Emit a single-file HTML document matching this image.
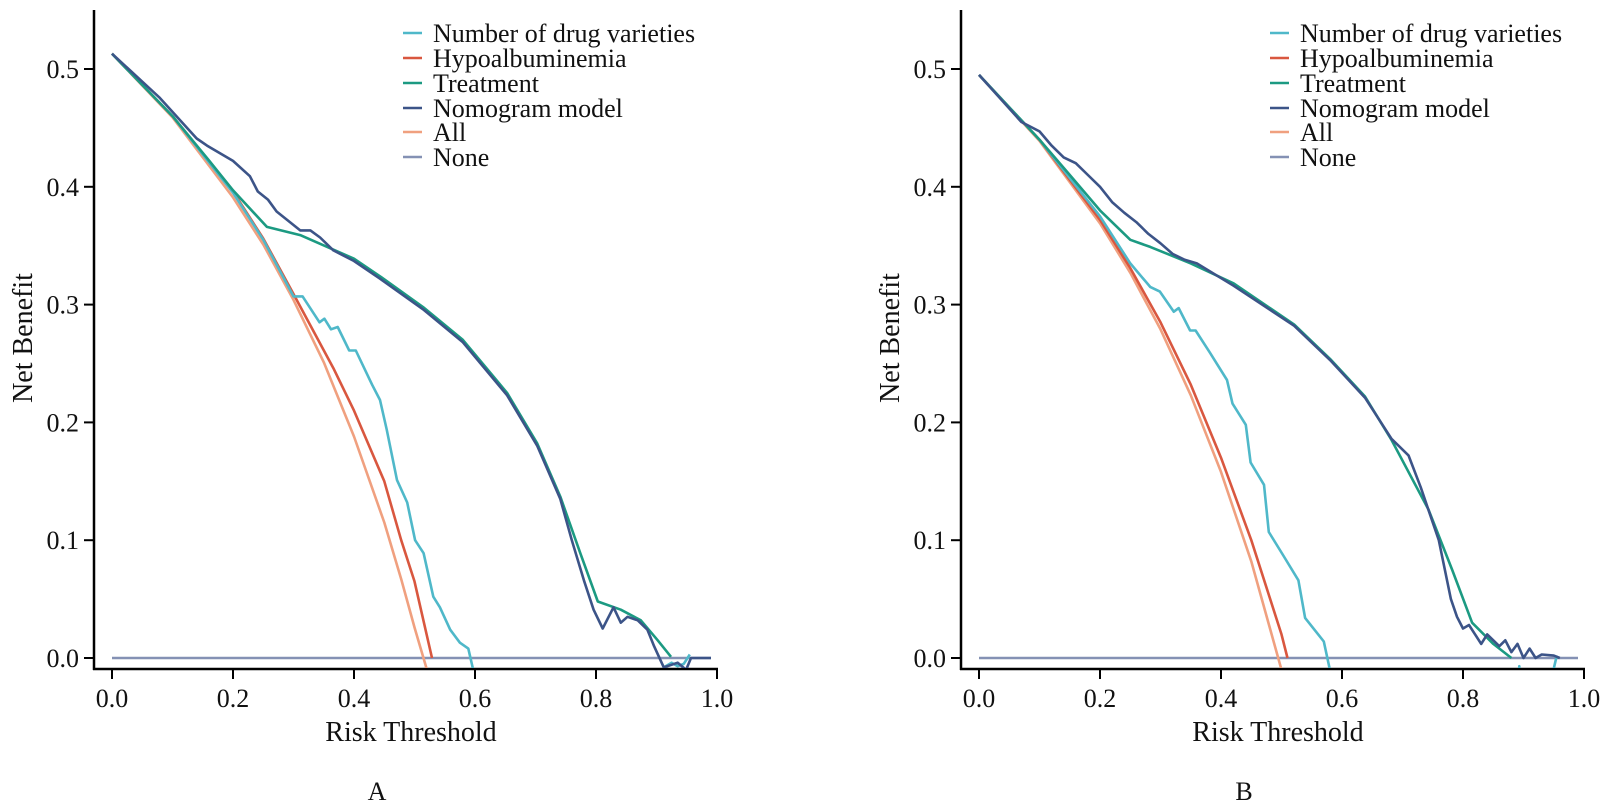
<!DOCTYPE html>
<html><head><meta charset="utf-8"><style>
html,body{margin:0;padding:0;background:#fff;}
svg{display:block;font-family:"Liberation Serif",serif;}
</style></head><body>
<svg id="chart" width="1604" height="803" viewBox="0 0 1604 803" xmlns="http://www.w3.org/2000/svg"></svg>
<script>
// ---- Shared axis data ----
const tickX = [0, 0.2, 0.4, 0.6, 0.8, 1.0];
const tickXLabels = ["0.0","0.2","0.4","0.6","0.8","1.0"];
const tickY = [0, 0.1, 0.2, 0.3, 0.4, 0.5];
const tickYLabels = ["0.0","0.1","0.2","0.3","0.4","0.5"];
const seriesNames = ["Number of drug varieties","Hypoalbuminemia","Treatment","Nomogram model","All","None"];

// ---- Panel A data ----
const aAllT = [0,0.1,0.2,0.25,0.3,0.35,0.4,0.45,0.478,0.5,0.52];
const aAllV = [0.513,0.459,0.391,0.351,0.304,0.251,0.188,0.115,0.067,0.026,-0.009];
const aHypoT = [0,0.1,0.2,0.25,0.3,0.366,0.4,0.45,0.478,0.5,0.529];
const aHypoV = [0.513,0.46,0.396,0.356,0.309,0.246,0.21,0.15,0.1,0.065,0];
const aDrugT = [0,0.1,0.2,0.25,0.3,0.315,0.329,0.343,0.351,0.362,0.373,0.392,0.403,0.43,0.443,0.454,0.471,0.488,0.501,0.515,0.531,0.542,0.559,0.575,0.589,0.597,0.62,0.9,0.912,0.925,0.935,0.945,0.955];
const aDrugV = [0.513,0.46,0.395,0.355,0.307,0.307,0.296,0.285,0.288,0.279,0.281,0.261,0.261,0.232,0.219,0.194,0.151,0.132,0.1,0.089,0.052,0.043,0.024,0.013,0.008,-0.01,-0.1,-0.1,-0.008,-0.004,-0.007,-0.005,0.003];
const aTreatT = [0,0.1,0.161,0.2,0.256,0.311,0.4,0.443,0.514,0.58,0.653,0.703,0.741,0.774,0.803,0.841,0.874,0.902,0.924];
const aTreatV = [0.513,0.46,0.422,0.397,0.366,0.359,0.339,0.324,0.298,0.27,0.225,0.182,0.137,0.089,0.048,0.041,0.032,0.015,0.001];
const aNomoT = [0,0.078,0.14,0.157,0.2,0.228,0.241,0.258,0.272,0.294,0.311,0.328,0.344,0.366,0.4,0.443,0.514,0.58,0.653,0.703,0.741,0.76,0.78,0.796,0.811,0.829,0.841,0.852,0.869,0.885,0.896,0.912,0.935,0.949,0.957,0.99];
const aNomoV = [0.513,0.476,0.441,0.435,0.422,0.409,0.396,0.389,0.379,0.37,0.363,0.363,0.357,0.346,0.337,0.322,0.296,0.268,0.223,0.18,0.135,0.1,0.066,0.041,0.025,0.043,0.03,0.035,0.032,0.024,0.01,-0.008,-0.004,-0.01,0,0];
const aNoneT = [0,0.99];
const aNoneV = [0,0];

// ---- Panel B data ----
const bAllT = [0,0.1,0.2,0.25,0.3,0.35,0.4,0.45,0.5];
const bAllV = [0.495,0.439,0.369,0.327,0.279,0.223,0.158,0.082,-0.01];
const bHypoT = [0,0.1,0.2,0.25,0.3,0.35,0.4,0.45,0.5,0.51];
const bHypoV = [0.495,0.44,0.372,0.331,0.285,0.232,0.17,0.1,0.02,0];
const bDrugT = [0,0.1,0.2,0.25,0.283,0.299,0.322,0.33,0.349,0.358,0.382,0.41,0.419,0.441,0.449,0.471,0.479,0.503,0.528,0.539,0.57,0.58,0.62,0.88,0.893,0.9,0.93,0.945,0.955];
const bDrugV = [0.495,0.44,0.375,0.335,0.315,0.311,0.294,0.297,0.278,0.278,0.259,0.236,0.216,0.198,0.166,0.147,0.107,0.087,0.066,0.034,0.014,-0.01,-0.1,-0.1,-0.007,-0.1,-0.1,-0.02,0.002];
const bTreatT = [0,0.1,0.15,0.2,0.25,0.283,0.35,0.421,0.521,0.582,0.638,0.682,0.743,0.782,0.815,0.85,0.88];
const bTreatV = [0.495,0.44,0.41,0.38,0.355,0.349,0.335,0.318,0.283,0.253,0.222,0.185,0.126,0.075,0.03,0.012,0];
const bNomoT = [0,0.07,0.1,0.12,0.14,0.16,0.18,0.2,0.22,0.24,0.26,0.28,0.3,0.32,0.34,0.36,0.421,0.521,0.582,0.638,0.682,0.71,0.73,0.76,0.78,0.79,0.8,0.81,0.82,0.83,0.84,0.85,0.86,0.87,0.88,0.89,0.9,0.91,0.92,0.93,0.95,0.96];
const bNomoV = [0.495,0.455,0.447,0.435,0.425,0.42,0.41,0.4,0.387,0.378,0.37,0.36,0.352,0.343,0.338,0.335,0.316,0.282,0.252,0.221,0.186,0.172,0.145,0.1,0.05,0.035,0.025,0.028,0.02,0.012,0.02,0.015,0.01,0.015,0.005,0.012,0,0.008,0,0.003,0.002,0];
const bNoneT = [0,0.99];
const bNoneV = [0,0];

const colors = ["#4fb8c9","#d9573f","#1c9a82","#3c5488","#f0a07f","#8491b4"];
const NS = "http://www.w3.org/2000/svg";
const svg = document.getElementById('chart');

function mk(tag, attrs, parent){
  const e = document.createElementNS(NS, tag);
  for (const k in attrs) e.setAttribute(k, attrs[k]);
  (parent||svg).appendChild(e);
  return e;
}

function panel(id, off, series, letter){
  const x0 = 112 + off, xs = 605, y0 = 658, ys = 1178;
  const X = t => x0 + t*xs;
  const Y = v => y0 - v*ys;
  const g = mk('g', {});
  
  
  const clip = mk('clipPath', {id:'clip'+id}, g);
  mk('rect', {x:95+off, y:5, width:640, height:663}, clip);
  const yAxis = mk('line', {x1:94+off, y1:10, x2:94+off, y2:670, stroke:'#000', 'stroke-width':2.5}, g);
  
  
  const xAxis = mk('line', {x1:93+off, y1:669, x2:X(1.0)+1, y2:669, stroke:'#000', 'stroke-width':2.5}, g);
  
  
  tickX.forEach((t,i)=>{
    mk('line', {x1:X(t), y1:669, x2:X(t), y2:679, stroke:'#000', 'stroke-width':2}, g);
    const tx = mk('text', {x:X(t), y:707, 'font-size':26, 'text-anchor':'middle', fill:'#111'}, g);
    tx.textContent = tickXLabels[i];
    
    
  });
  tickY.forEach((v,i)=>{
    mk('line', {x1:84+off, y1:Y(v), x2:94+off, y2:Y(v), stroke:'#000', 'stroke-width':2}, g);
    const tx = mk('text', {x:79+off, y:Y(v)+9, 'font-size':26, 'text-anchor':'end', fill:'#111'}, g);
    tx.textContent = tickYLabels[i];
    
    
  });
  const yt = mk('text', {x:0, y:0, 'font-size':28, 'text-anchor':'middle', fill:'#111', transform:`translate(${32+off},338) rotate(-90)`}, g);
  yt.textContent = 'Net Benefit';
  
  
  const xt = mk('text', {x:411+off, y:741, 'font-size':28, 'text-anchor':'middle', fill:'#111'}, g);
  xt.textContent = 'Risk Threshold';
  
  
  const pl = mk('text', {x:377+off, y:800, 'font-size':26, 'text-anchor':'middle', fill:'#111'}, g);
  pl.textContent = letter;
  
  
  const order = [5,4,1,0,2,3];
  order.forEach(i=>{
    const s = series[i];
    const pts = s[0].map((t,j)=>X(t).toFixed(1)+','+Y(s[1][j]).toFixed(1)).join(' ');
    const p = mk('polyline', {points:pts, fill:'none', stroke:colors[i], 'stroke-width':2.6, 'stroke-linejoin':'round', 'clip-path':`url(#clip${id})`}, g);
    
    
  });
  const lg = mk('g', {}, g);
  
  
  const rows = [33,58,83,108,132,157];
  seriesNames.forEach((n,i)=>{
    const e = mk('g', {}, lg);
    
    
    mk('line', {x1:403+off, y1:rows[i], x2:422+off, y2:rows[i], stroke:colors[i], 'stroke-width':2.6}, e);
    const tx = mk('text', {x:433+off, y:rows[i]+9, 'font-size':26, fill:'#111'}, e);
    tx.textContent = n;
  });
}

panel('a', 0, [[aDrugT,aDrugV],[aHypoT,aHypoV],[aTreatT,aTreatV],[aNomoT,aNomoV],[aAllT,aAllV],[aNoneT,aNoneV]], 'A');
panel('b', 867, [[bDrugT,bDrugV],[bHypoT,bHypoV],[bTreatT,bTreatV],[bNomoT,bNomoV],[bAllT,bAllV],[bNoneT,bNoneV]], 'B');
</script>
</body></html>
